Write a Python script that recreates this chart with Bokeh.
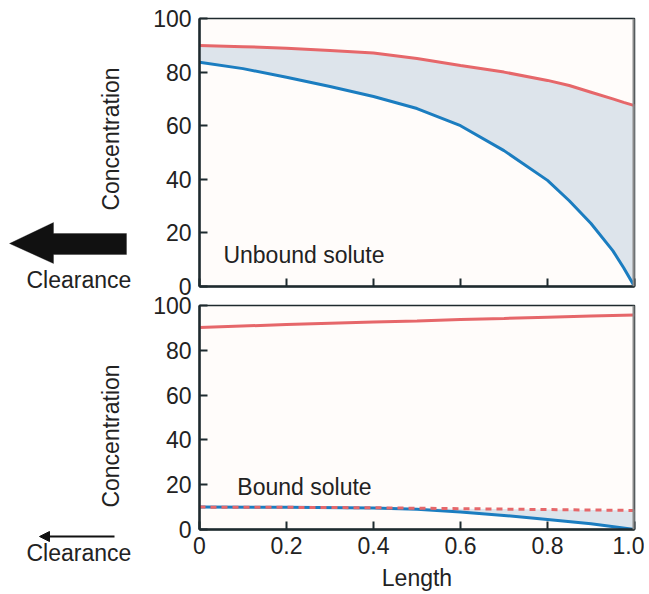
import math
from bokeh.plotting import figure
from bokeh.layouts import column, row
from bokeh.models import (Range1d, FixedTicker, Label, PolyAnnotation, Arrow,
                          NormalHead, Span, ColumnDataSource)
from bokeh.embed import file_html
from bokeh.resources import INLINE

# ---- data ----
length = [0.0, 0.1, 0.2, 0.3, 0.4, 0.5, 0.6, 0.7, 0.8, 0.85, 0.9, 0.95, 0.975, 1.0]
unbound_red = [89.9, 89.5, 88.9, 88.1, 87.1, 85.1, 82.5, 80.0, 76.9, 75.0, 72.5, 70.0, 68.7, 67.5]
unbound_blue = [83.7, 81.3, 78.1, 74.6, 70.9, 66.4, 60.0, 50.7, 39.6, 32.0, 23.5, 13.4, 7.0, 0.0]

b_length = [0.0, 0.2, 0.4, 0.5, 0.6, 0.7, 0.8, 0.9, 1.0]
bound_red = [90.2, 91.5, 92.6, 93.1, 93.7, 94.2, 94.8, 95.3, 95.8]
bound_red_dash = [10.0, 9.9, 9.7, 9.5, 9.3, 9.1, 8.9, 8.7, 8.5]
bound_blue = [10.0, 9.9, 9.6, 9.0, 7.8, 6.3, 4.5, 2.6, 0.0]

x_ticks = [0, 0.2, 0.4, 0.6, 0.8, 1.0]
x_tick_labels = {0: "0", 0.2: "0.2", 0.4: "0.4", 0.6: "0.6", 0.8: "0.8", 1.0: "1.0"}
y_ticks = [0, 20, 40, 60, 80, 100]
y_title = "Concentration"
x_title = "Length"

FONT = "Liberation Sans"
FS = "23px"
RED = "#e6676a"
BLUE = "#1b7dc0"
FILL = "#dde4eb"
BG = "#fffcfa"
DARK = "#1e2a2e"
TXT = "#222222"

LEFT_W = 146
TOP_H = 295
BOT_H = 298
TOTAL_H = TOP_H + BOT_H


def style(p, show_xlabels):
    p.background_fill_color = BG
    p.border_fill_color = "white"
    p.outline_line_color = DARK
    p.outline_line_width = 1.5
    p.xgrid.visible = False
    p.ygrid.visible = False
    for ax in (p.xaxis[0], p.yaxis[0]):
        ax.axis_line_color = DARK
        ax.axis_line_width = 2.5
        ax.major_tick_line_color = DARK
        ax.major_tick_line_width = 2
        ax.major_tick_in = 8
        ax.major_tick_out = 0
        ax.minor_tick_line_color = None
        ax.major_label_text_font = FONT
        ax.major_label_text_font_size = FS
        ax.major_label_text_color = TXT
        ax.axis_label_text_font = FONT
        ax.axis_label_text_font_size = FS
        ax.axis_label_text_font_style = "normal"
        ax.axis_label_text_color = TXT
    p.xaxis.ticker = FixedTicker(ticks=x_ticks)
    p.yaxis.ticker = FixedTicker(ticks=y_ticks)
    p.yaxis.major_label_standoff = 8
    if show_xlabels:
        p.xaxis.major_label_overrides = x_tick_labels
        p.xaxis.axis_label = x_title
        p.xaxis.major_label_standoff = 7
        p.xaxis.axis_label_standoff = 8
    else:
        p.xaxis.major_label_overrides = {t: "" for t in x_ticks}
        p.xaxis.major_label_standoff = 0
    p.add_layout(Span(location=1.0, dimension="height", line_color="#8c8c8c",
                      line_width=4))


def main_fig(h, top_border, bottom_border):
    return figure(width=644 - LEFT_W, height=h, output_backend="svg",
                  toolbar_location=None, x_range=Range1d(0, 1),
                  y_range=Range1d(0, 100), min_border_left=199 - LEFT_W,
                  min_border_right=10, min_border_top=top_border,
                  min_border_bottom=bottom_border)


# ---- top panel ----
top = main_fig(TOP_H, 18, 9)
style(top, False)
src_t = ColumnDataSource(dict(x=length, red=unbound_red, blue=unbound_blue))
top.varea(x="x", y1="blue", y2="red", source=src_t, fill_color=FILL)
top.line(x="x", y="red", source=src_t, line_color=RED, line_width=3)
top.line(x="x", y="blue", source=src_t, line_color=BLUE, line_width=3)
top.add_layout(Label(x=0.055, y=11.9, text="Unbound solute", text_font=FONT,
                     text_font_size=FS, text_color=TXT,
                     text_baseline="alphabetic"))

# ---- bottom panel ----
bot = main_fig(BOT_H, 10, 63)
style(bot, True)
src_b = ColumnDataSource(dict(x=b_length, red=bound_red, dash=bound_red_dash,
                              blue=bound_blue))
bot.varea(x="x", y1="blue", y2="dash", source=src_b, fill_color=FILL)
bot.line(x="x", y="red", source=src_b, line_color=RED, line_width=3)
bot.line(x="x", y="blue", source=src_b, line_color=BLUE, line_width=3)
bot.line(x="x", y="dash", source=src_b, line_color=RED, line_width=3,
         line_dash="6 5")
bot.add_layout(Label(x=0.087, y=19.1, text="Bound solute", text_font=FONT,
                     text_font_size=FS, text_color=TXT,
                     text_baseline="alphabetic"))

# ---- left strip: y titles and clearance arrows (pixel coordinates) ----
side = figure(width=LEFT_W, height=TOTAL_H, output_backend="svg",
              toolbar_location=None, x_range=Range1d(0, LEFT_W),
              y_range=Range1d(0, TOTAL_H), min_border=0,
              x_axis_location=None, y_axis_location=None)
side.outline_line_color = None
side.xgrid.visible = False
side.ygrid.visible = False
side.background_fill_color = "white"
side.border_fill_color = "white"


def py(s):
    return TOTAL_H - s


for cy in (138.5, 435.5):
    side.add_layout(Label(x=110, y=py(cy), text=y_title, angle=math.pi / 2,
                          text_font=FONT, text_font_size=FS, text_color=TXT,
                          text_align="center", text_baseline="alphabetic"))
side.add_layout(PolyAnnotation(
    xs=[9, 53, 53, 126, 126, 53, 53],
    ys=[py(243), py(222), py(233), py(233), py(254), py(254), py(263)],
    fill_color="#111111", fill_alpha=1.0, line_color="#111111", line_width=1))
side.add_layout(Label(x=26, y=py(279), text="Clearance", text_font=FONT,
                      text_font_size=FS, text_color=TXT,
                      text_baseline="alphabetic"))
side.add_layout(Arrow(x_start=114, y_start=py(536), x_end=39, y_end=py(536),
                      line_color="#111111", line_width=2,
                      end=NormalHead(size=10, fill_color="#111111",
                                     line_color="#111111")))
side.add_layout(Label(x=26, y=py(552), text="Clearance", text_font=FONT,
                      text_font_size=FS, text_color=TXT,
                      text_baseline="alphabetic"))

layout = row(side, column(top, bot, spacing=0), spacing=0)
open("out.html", "w").write(file_html(layout, INLINE))
